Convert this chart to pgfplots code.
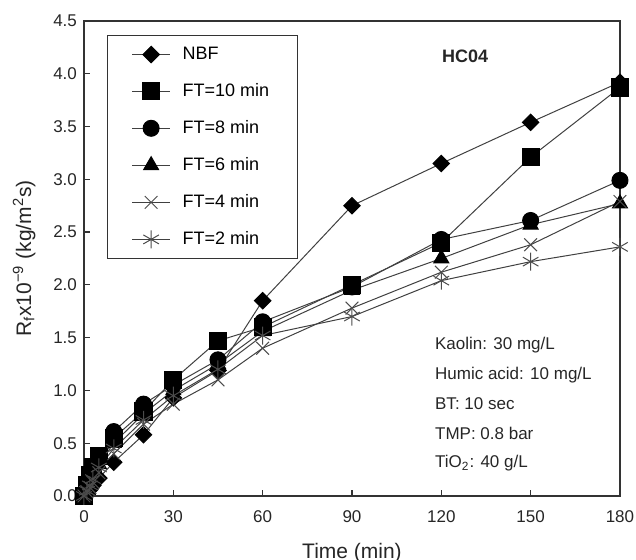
\documentclass[border=0pt]{standalone}
\usepackage{fontspec}
\setmainfont{Liberation Sans}
\usepackage{pgfplots}
\pgfplotsset{compat=1.18}

\pgfplotstableread{
t    nbf   ft10  ft8   ft6   ft4   ft2
0    0.00  0.00  0.00  0.00  0.00  0.00
1    0.03  0.10  0.08  0.06  0.04  0.05
2    0.06  0.20  0.15  0.12  0.08  0.10
3    0.10  0.27  0.22  0.18  0.13  0.16
5    0.17  0.38  0.35  0.30  0.22  0.27
10   0.32  0.55  0.61  0.50  0.40  0.45
20   0.58  0.80  0.87  0.78  0.68  0.72
30   0.93  1.10  1.05  1.00  0.87  0.95
45   1.19  1.47  1.29  1.25  1.10  1.20
60   1.85  1.60  1.65  1.56  1.40  1.52
90   2.75  2.00  1.98  1.95  1.78  1.70
120  3.15  2.40  2.43  2.25  2.12  2.04
150  3.54  3.21  2.61  2.57  2.38  2.22
180  3.92  3.87  2.99  2.77  2.79  2.36
}\datatable

\begin{document}
\begin{tikzpicture}
\begin{axis}[
  scale only axis,
  width=268pt, height=237.5pt,
  xmin=0, xmax=180, ymin=0, ymax=4.5,
  xtick={0,30,...,180},
  ytick={0,0.5,...,4.5},
  yticklabel style={/pgf/number format/.cd, fixed, fixed zerofill, precision=1},
  /pgf/number format/assume math mode=true,
  tick align=inside, tick pos=left,
  major tick length=3pt,
  axis line style={black!80, line width=0.7pt},
  tick style={black!80, line width=0.6pt},
  tick label style={font=\fontsize{8.5}{10}\selectfont, black!85},
  xticklabel style={yshift=-4pt},
  xlabel={Time (min)},
  ylabel={R\textsubscript{f}x10\textsuperscript{−9} (kg/m\textsuperscript{2}s)},
  label style={font=\fontsize{10.5}{12}\selectfont, black!85},
  xlabel style={yshift=-3pt},
  ylabel style={yshift=2pt},
  clip=false,
  every axis plot/.append style={black!75, line width=0.5pt},
  legend style={at={(rel axis cs:0.043,0.970)}, anchor=north west,
    draw=black!80, line width=0.6pt, font=\fontsize{9}{10}\selectfont,
    row sep=6.5pt, inner xsep=12pt, inner ysep=3.5pt},
  legend cell align=left,
  /tikz/every odd column/.append style={column sep=4pt},
  legend image code/.code={\draw[mark repeat=2, mark phase=2, #1] plot coordinates {(0pt,0pt) (9.5pt,0pt) (19pt,0pt)};},
]
\addplot[mark=square*, mark options={solid, rotate=45, fill=black, draw=black}, mark size=2.9pt] table[x=t, y=nbf] {\datatable};
\addlegendentry{NBF}
\addplot[mark=square*, mark options={solid, fill=black, draw=black}, mark size=4.3pt] table[x=t, y=ft10] {\datatable};
\addlegendentry{FT=10 min}
\addplot[mark=*, mark options={solid, fill=black, draw=black}, mark size=4pt] table[x=t, y=ft8] {\datatable};
\addlegendentry{FT=8 min}
\addplot[mark=triangle*, mark options={solid, fill=black, draw=black}, mark size=4.3pt] table[x=t, y=ft6] {\datatable};
\addlegendentry{FT=6 min}
\addplot[mark=x, mark size=4.5pt, mark options={solid, draw=black!70, line width=0.5pt}] table[x=t, y=ft4] {\datatable};
\addlegendentry{FT=4 min}
\addplot[mark=asterisk, mark size=4.5pt, mark options={solid, draw=black!70, line width=0.5pt}] table[x=t, y=ft2] {\datatable};
\addlegendentry{FT=2 min}

\node[font=\bfseries\fontsize{9}{10}\selectfont, black!85] at (rel axis cs:0.711,0.926) {HC04};
\node[font=\fontsize{8.5}{10}\selectfont, black!85, anchor=west] at (rel axis cs:0.642,0.318) {Kaolin: 30 mg/L};
\node[font=\fontsize{8.5}{10}\selectfont, black!85, anchor=west] at (rel axis cs:0.642,0.255) {Humic acid: 10 mg/L};
\node[font=\fontsize{8.5}{10}\selectfont, black!85, anchor=west] at (rel axis cs:0.642,0.194) {BT: 10 sec};
\node[font=\fontsize{8.5}{10}\selectfont, black!85, anchor=west] at (rel axis cs:0.642,0.131) {TMP: 0.8 bar};
\node[font=\fontsize{8.5}{10}\selectfont, black!85, anchor=west] at (rel axis cs:0.642,0.069) {TiO\textsubscript{2}: 40 g/L};

\coordinate (bl) at (rel axis cs:-0.1567,-0.1347);
\coordinate (tr) at (rel axis cs:1.0299,1.0442);
\end{axis}
\pgfresetboundingbox
\path[use as bounding box] (bl) rectangle (tr);
\end{tikzpicture}
\end{document}
